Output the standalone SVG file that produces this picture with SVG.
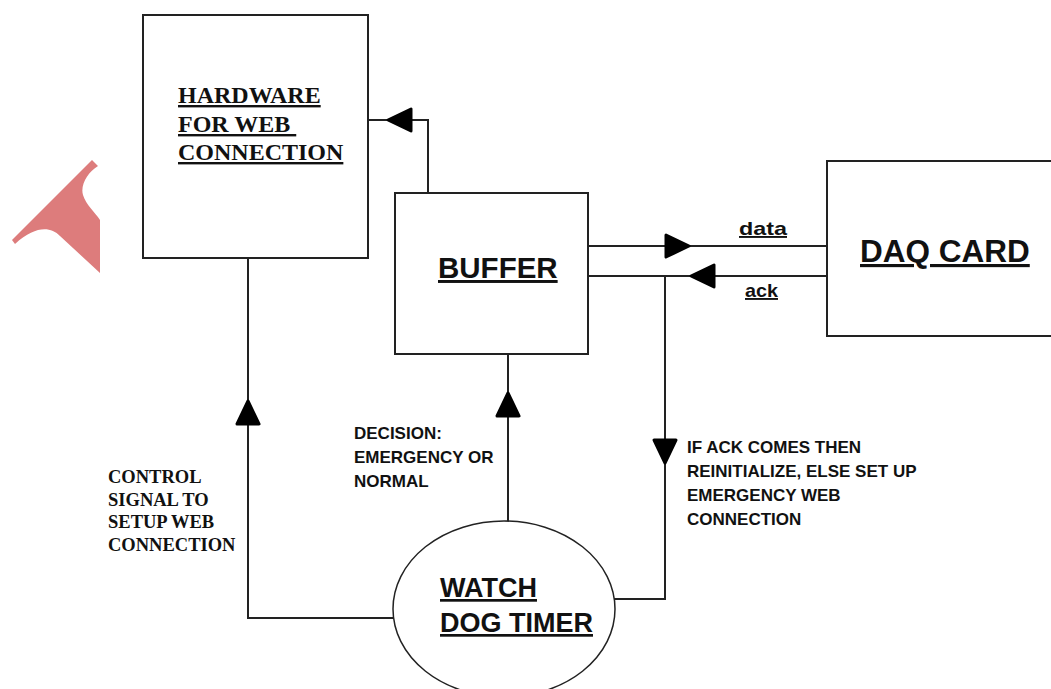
<svg xmlns="http://www.w3.org/2000/svg" xmlns:xlink="http://www.w3.org/1999/xlink" width="1051" height="689" viewBox="0 0 1051 689">
<style>
.box{fill:#fff;stroke:#222;stroke-width:2}
.ln{fill:none;stroke:#222;stroke-width:2}
.ah{fill:#000;stroke:#000;stroke-width:3;stroke-linejoin:round}
.serif{font-family:"Liberation Serif","Times New Roman",serif;font-weight:bold;fill:#111}
.sans{font-family:"Liberation Sans",Arial,sans-serif;font-weight:bold;fill:#111}
.u{text-decoration:underline}
</style>
<defs>
<polygon id="ah" points="-23,-11 0,0 -23,11"/>
</defs>
<rect width="1051" height="689" fill="#fff"/>
<path d="M92,160 L98,166 C88,172 80,185 83,195 C86,205 95,212 100,220 L100,273 L60,236 C50,226 35,226 15,244 L12,240 Z" fill="#DD7C7C"/>

<g id="connectors">
<polyline class="ln" points="428,193 428,120 368,120"/>
<use xlink:href="#ah" class="ah" transform="translate(388,120) rotate(180)"/>
<line class="ln" x1="588" y1="246" x2="827" y2="246"/>
<use xlink:href="#ah" class="ah" transform="translate(689,246)"/>
<line class="ln" x1="827" y1="276" x2="588" y2="276"/>
<use xlink:href="#ah" class="ah" transform="translate(691,276) rotate(180)"/>
<polyline class="ln" points="665,276 665,599 614,599"/>
<use xlink:href="#ah" class="ah" transform="translate(665,463) rotate(90)"/>
<line class="ln" x1="508" y1="354" x2="508" y2="521"/>
<use xlink:href="#ah" class="ah" transform="translate(508,393) rotate(-90)"/>
<polyline class="ln" points="248,258 248,618 393,618"/>
<use xlink:href="#ah" class="ah" transform="translate(248,401) rotate(-90)"/>
<text class="sans u" x="739" y="235" font-size="19" textLength="48" lengthAdjust="spacingAndGlyphs">data</text>
<text class="sans u" x="745" y="297" font-size="19" textLength="33" lengthAdjust="spacingAndGlyphs">ack</text>
<text class="serif" font-size="18.5"><tspan x="108" y="483">CONTROL</tspan><tspan x="108" y="506">SIGNAL TO</tspan><tspan x="108" y="528">SETUP WEB</tspan><tspan x="108" y="551">CONNECTION</tspan></text>
<text class="sans" font-size="17"><tspan x="354" y="439">DECISION:</tspan><tspan x="354" y="463">EMERGENCY OR</tspan><tspan x="354" y="487">NORMAL</tspan></text>
<text class="sans" font-size="17"><tspan x="687" y="453">IF ACK COMES THEN</tspan><tspan x="687" y="477">REINITIALIZE, ELSE SET UP</tspan><tspan x="687" y="501">EMERGENCY WEB</tspan><tspan x="687" y="525">CONNECTION</tspan></text>
</g>

<g id="hardware">
<rect class="box" x="143" y="15" width="225" height="243"/>
<text class="serif u" font-size="24"><tspan x="178" y="103">HARDWARE</tspan><tspan x="178" y="132" xml:space="preserve">FOR WEB </tspan><tspan x="178" y="160">CONNECTION</tspan></text>
</g>

<g id="buffer">
<rect class="box" x="395" y="193" width="193" height="161"/>
<text class="sans u" x="438" y="278" font-size="29.5">BUFFER</text>
</g>

<g id="daq">
<rect class="box" x="827" y="161" width="240" height="175"/>
<text class="sans u" x="860" y="262" font-size="31.5">DAQ CARD</text>
</g>

<g id="watchdog">
<ellipse class="box" cx="504" cy="609" rx="111" ry="88" style="stroke-width:1.5"/>
<text class="sans u" font-size="27"><tspan x="440" y="597">WATCH</tspan><tspan x="440" y="632">DOG TIMER</tspan></text>
</g>
</svg>
